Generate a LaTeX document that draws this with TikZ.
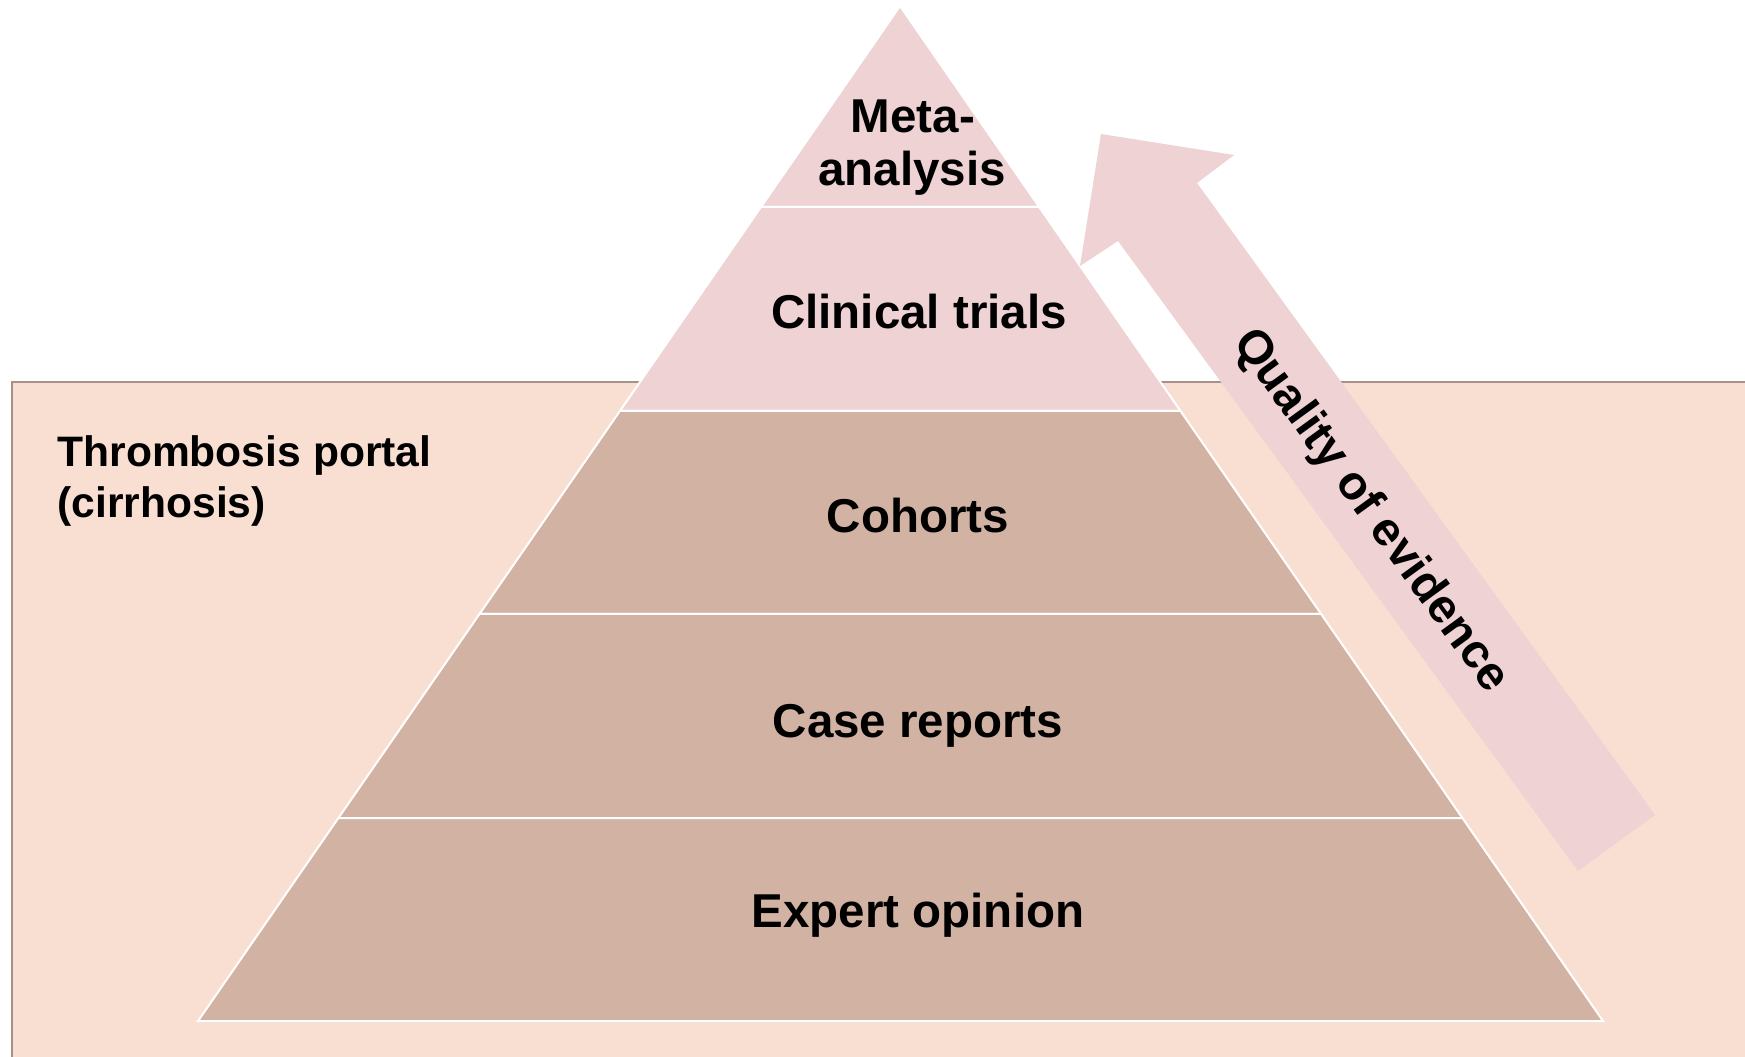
\documentclass[tikz,border=0pt]{standalone}
\usepackage{fontspec}
\setmainfont{Liberation Sans}
\usetikzlibrary{calc}
\definecolor{bgpeach}{RGB}{249,223,210}
\definecolor{framebrown}{RGB}{168,145,137}
\definecolor{tierpink}{RGB}{239,210,211}
\definecolor{tierbrown}{RGB}{210,178,163}
\begin{document}
\begin{tikzpicture}[x=0.5pt,y=-0.5pt,
  tier/.style={draw=white,line width=1pt,line join=miter},
  tiertext/.style={font=\fontsize{23.75}{28}\selectfont\bfseries,inner sep=0pt,anchor=base},
  sidetext/.style={font=\fontsize{21.3}{26}\selectfont\bfseries,inner sep=0pt,anchor=base west}]
\clip (0,0) rectangle (1745,1056);
\fill[white] (0,0) rectangle (1745,1056);
% background panel
\draw[fill=bgpeach,draw=framebrown,line width=1pt] (12,382) rectangle (1800,1100);

% pyramid outline and tier boundaries
\coordinate (apex) at (900,6);
\coordinate (bl) at (198,1021);
\coordinate (br) at (1603,1021);
\foreach \t [count=\i] in {0.198,0.399,0.599,0.8} {
  \coordinate (l\i) at ($(apex)!\t!(bl)$);
  \coordinate (r\i) at ($(apex)!\t!(br)$);
}
\filldraw[tier,fill=tierpink] (apex) -- (l1) -- (r1) -- cycle;
\filldraw[tier,fill=tierpink] (l1) -- (l2) -- (r2) -- (r1) -- cycle;
\filldraw[tier,fill=tierbrown] (l2) -- (l3) -- (r3) -- (r2) -- cycle;
\filldraw[tier,fill=tierbrown] (l3) -- (l4) -- (r4) -- (r3) -- cycle;
\filldraw[tier,fill=tierbrown] (l4) -- (bl) -- (br) -- (r4) -- cycle;

% quality arrow
\fill[tierpink] (1101,134) -- (1234,155) -- (1197,183) -- (1655,815)
  -- (1578,871) -- (1118,241) -- (1080,266) -- cycle;

% tier labels
\node[tiertext] (meta) at (913,132) {Meta-};
\node[tiertext] (analysis) at (912,185) {analysis};
\node[tiertext] (clinical) at (919,328) {Clinical trials};
\node[tiertext] (cohorts) at (918,532) {Cohorts};
\node[tiertext] (casereports) at (918,737) {Case reports};
\node[tiertext] (expert) at (918,927) {Expert opinion};

\node[tiertext,anchor=center,rotate=-54] (quality) at (1370,511) {Quality of evidence};

\node[sidetext] (topic) at (57,466) {Thrombosis portal};
\node[sidetext] (topic2) at (57,517) {(cirrhosis)};
\end{tikzpicture}
\end{document}
